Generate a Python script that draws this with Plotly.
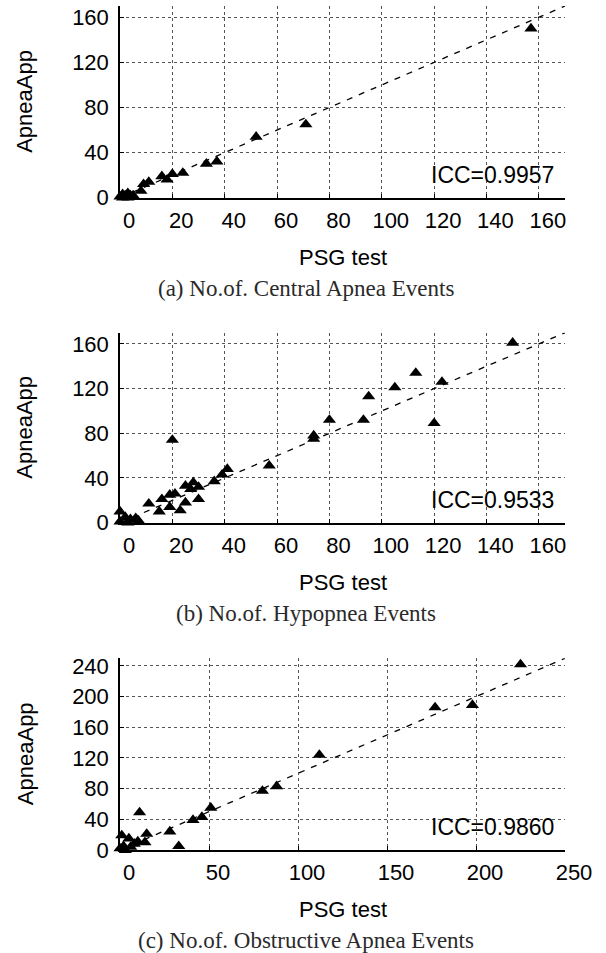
import plotly.graph_objects as go

# ---- data ----
psg_central = [0, 1, 1, 2, 2, 3, 3, 4, 5, 8, 9, 11, 16, 18, 20, 24, 33, 37, 52, 71, 157]
app_central = [1, 0, 3, 1, 2, 0, 4, 2, 2, 6, 12, 14, 19, 16, 21, 22, 30, 32, 54, 65, 150]

psg_hypop = [0, 0, 2, 3, 4, 6, 7, 11, 15, 16, 19, 19, 20, 21, 23, 25, 25, 27, 28, 30, 30,
             36, 39, 41, 57, 74, 74, 80, 93, 95, 105, 113, 120, 123, 150]
app_hypop = [10, 1, 5, 0, 3, 4, 2, 17, 10, 21, 14, 25, 74, 26, 11, 18, 33, 30, 36, 32, 21,
             37, 43, 48, 51, 78, 75, 92, 92, 113, 121, 134, 89, 126, 161]

psg_obstr = [0, 1, 2, 3, 5, 6, 8, 10, 11, 14, 15, 28, 33, 41, 46, 51, 80, 88, 112, 177, 198, 225]
app_obstr = [2, 19, 5, 0, 15, 4, 8, 11, 49, 10, 21, 24, 5, 39, 43, 55, 77, 83, 124, 186, 189, 242]

panels = [
    dict(x=psg_central, y=app_central, icc="ICC=0.9957", cap="(a) No.of. Central Apnea Events",
         xmax=170, ymax=170, xticks=[0, 20, 40, 60, 80, 100, 120, 140, 160],
         yticks=[0, 40, 80, 120, 160], top=6, bottom=197.7),
    dict(x=psg_hypop, y=app_hypop, icc="ICC=0.9533", cap="(b) No.of. Hypopnea Events",
         xmax=170, ymax=170, xticks=[0, 20, 40, 60, 80, 100, 120, 140, 160],
         yticks=[0, 40, 80, 120, 160], top=332.7, bottom=522.7),
    dict(x=psg_obstr, y=app_obstr, icc="ICC=0.9860", cap="(c) No.of. Obstructive Apnea Events",
         xmax=250, ymax=250, xticks=[0, 50, 100, 150, 200, 250],
         yticks=[0, 40, 80, 120, 160, 200, 240], top=658.3, bottom=850),
]

W, H = 606, 953
XL, XR = 120, 565
SANS = "Liberation Sans, Arial, sans-serif"
SERIF = "Liberation Serif, Times New Roman, serif"


def fx(px):
    return px / W


def fy(py):
    return 1 - py / H


fig = go.Figure()
layout = dict(width=W, height=H, margin=dict(l=0, r=0, t=0, b=0),
              paper_bgcolor="white", plot_bgcolor="white", showlegend=False)
annotations = []

for i, p in enumerate(panels):
    n = "" if i == 0 else str(i + 1)
    xa, ya = "x" + n, "y" + n
    lim = min(p["xmax"], p["ymax"])
    fig.add_trace(go.Scatter(x=[0, lim], y=[0, lim], mode="lines", xaxis=xa, yaxis=ya,
                             line=dict(color="black", width=1.3, dash="6px,7px"),
                             hoverinfo="skip", cliponaxis=False))
    fig.add_trace(go.Scatter(x=p["x"], y=p["y"], mode="markers", xaxis=xa, yaxis=ya,
                             marker=dict(symbol="triangle-up", size=11.5, color="black",
                                         line=dict(width=0)),
                             cliponaxis=False))
    ydom = [fy(p["bottom"]), fy(p["top"])]
    common = dict(showgrid=True, gridcolor="#555", griddash="dot", gridwidth=1,
                  zeroline=False, showline=True, linecolor="black", linewidth=1.5,
                  ticks="inside", ticklen=4, tickcolor="black", tickwidth=1,
                  automargin=False, ticklabeloverflow="allow",
                  tickfont=dict(family=SANS, size=22, color="black"), fixedrange=True)
    layout["xaxis" + n] = dict(common, domain=[fx(XL), fx(XR)], range=[0, p["xmax"]],
                               tickvals=p["xticks"], anchor=ya, ticklabelshift=9,
                               ticklabelstandoff=2)
    layout["yaxis" + n] = dict(common, domain=ydom, range=[0, p["ymax"]],
                               tickvals=p["yticks"], anchor=xa, ticklabelstandoff=5)
    annotations.append(dict(text=p["icc"], xref=xa + " domain", yref=ya + " domain",
                            x=0.98, y=23 / (p["bottom"] - p["top"]), xanchor="right",
                            yanchor="middle", showarrow=False,
                            font=dict(family=SANS, size=23, color="black")))
    annotations.append(dict(text="ApneaApp", xref="paper", yref="paper", x=fx(25),
                            y=fy((p["top"] + p["bottom"]) / 2), textangle=-90,
                            xanchor="center", yanchor="middle", showarrow=False,
                            font=dict(family=SANS, size=22, color="black")))
    annotations.append(dict(text="PSG test", xref="paper", yref="paper", x=fx(343),
                            y=fy(p["bottom"] + 59.5), xanchor="center",
                            yanchor="middle", showarrow=False,
                            font=dict(family=SANS, size=22, color="black")))
    annotations.append(dict(text=p["cap"], xref="paper", yref="paper", x=fx(306),
                            y=fy(p["bottom"] + 90.5), xanchor="center",
                            yanchor="middle", showarrow=False,
                            font=dict(family=SERIF, size=23, color="#2a2a2a")))

layout["annotations"] = annotations
fig.update_layout(**layout)
# remove the default 8px page margin so the figure fills the window exactly
fig.write_html("out.html", config={"displayModeBar": False},
               post_script="document.body.style.margin='0';document.body.style.overflow='hidden';")
